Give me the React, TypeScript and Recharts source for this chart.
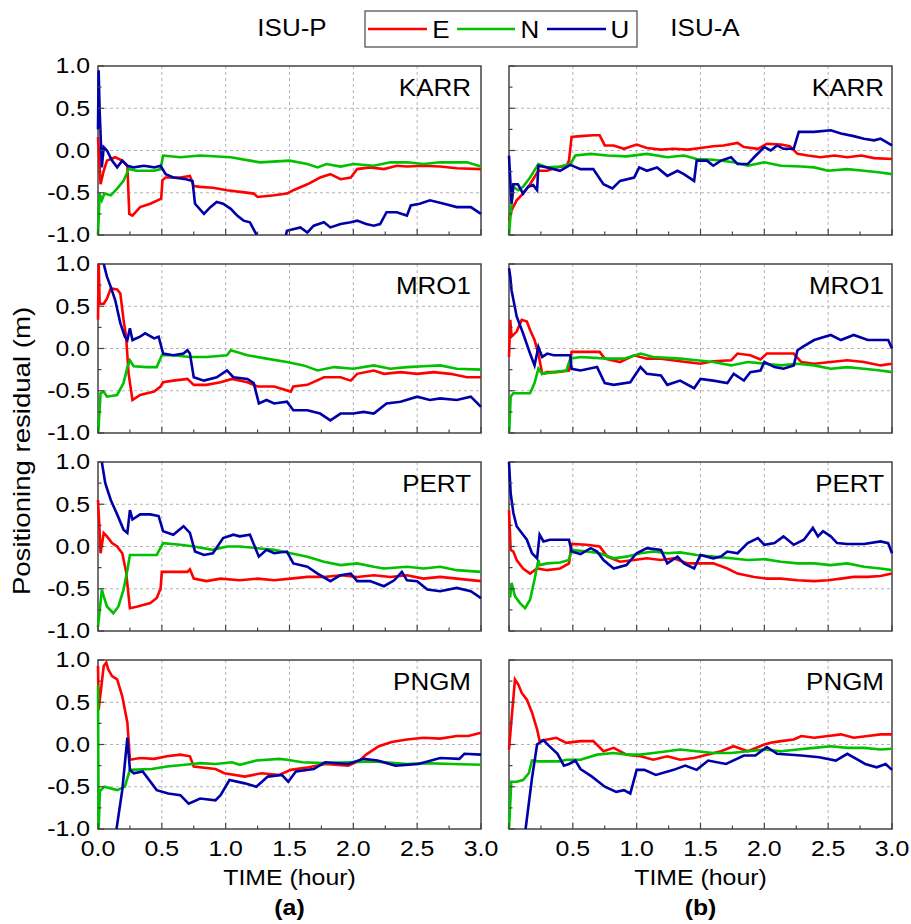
import { LineChart, Line, XAxis, YAxis, CartesianGrid, ReferenceArea } from 'recharts';

type Pt = [number, number];

const stations = ['KARR', 'MRO1', 'PERT', 'PNGM'];
const xTicks = [0, 0.25, 0.5, 0.75, 1, 1.25, 1.5, 1.75, 2, 2.25, 2.5, 2.75, 3];
const yTicks = [-1, -0.75, -0.5, -0.25, 0, 0.25, 0.5, 0.75, 1];
const gridX = [0.5, 1, 1.5, 2, 2.5];
const gridY = [-0.5, 0, 0.5];

// ISU-P (a)
const karrP_E: Pt[] = [[0,0.16],[0.02,-0.4],[0.045,-0.24],[0.07,-0.12],[0.1,-0.1],[0.135,-0.08],[0.19,-0.12],[0.23,-0.18],[0.245,-0.75],[0.27,-0.77],[0.33,-0.67],[0.41,-0.63],[0.495,-0.57],[0.505,-0.35],[0.53,-0.32],[0.645,-0.32],[0.72,-0.3],[0.75,-0.42],[0.8,-0.43],[0.9,-0.44],[1.01,-0.47],[1.115,-0.49],[1.22,-0.51],[1.25,-0.55],[1.38,-0.53],[1.48,-0.51],[1.53,-0.47],[1.64,-0.4],[1.74,-0.32],[1.82,-0.28],[1.9,-0.34],[1.98,-0.32],[2.03,-0.22],[2.13,-0.2],[2.24,-0.22],[2.34,-0.18],[2.42,-0.19],[2.55,-0.18],[2.68,-0.19],[2.81,-0.21],[3,-0.22]];
const karrP_N: Pt[] = [[0,-1],[0.013,-0.51],[0.03,-0.59],[0.05,-0.51],[0.1,-0.53],[0.15,-0.45],[0.2,-0.36],[0.24,-0.22],[0.3,-0.24],[0.44,-0.24],[0.49,-0.22],[0.51,-0.06],[0.645,-0.08],[0.8,-0.06],[1.04,-0.08],[1.19,-0.12],[1.27,-0.14],[1.5,-0.12],[1.64,-0.16],[1.72,-0.2],[1.79,-0.16],[1.9,-0.19],[2,-0.16],[2.16,-0.18],[2.29,-0.14],[2.42,-0.14],[2.55,-0.16],[2.68,-0.14],[2.89,-0.14],[3,-0.19]];
const karrP_U: Pt[] = [[0,0.25],[0.005,0.95],[0.013,0.47],[0.03,-0.2],[0.045,0.04],[0.07,0],[0.11,-0.12],[0.15,-0.2],[0.19,-0.12],[0.23,-0.18],[0.28,-0.2],[0.36,-0.18],[0.44,-0.2],[0.49,-0.18],[0.53,-0.28],[0.59,-0.32],[0.69,-0.34],[0.74,-0.36],[0.76,-0.63],[0.83,-0.75],[0.88,-0.67],[0.93,-0.61],[0.98,-0.63],[1.04,-0.69],[1.09,-0.77],[1.14,-0.83],[1.19,-0.85],[1.25,-1.02],[1.3,-1.15],[1.45,-1.15],[1.48,-0.95],[1.585,-0.91],[1.64,-0.97],[1.69,-0.89],[1.77,-0.85],[1.82,-0.91],[1.9,-0.87],[1.98,-0.85],[2.03,-0.83],[2.1,-0.87],[2.16,-0.89],[2.21,-0.87],[2.26,-0.73],[2.34,-0.73],[2.42,-0.77],[2.45,-0.65],[2.52,-0.63],[2.6,-0.59],[2.71,-0.63],[2.81,-0.67],[2.92,-0.67],[3,-0.75]];

const mroP_E: Pt[] = [[0,0.34],[0.005,1.05],[0.013,0.53],[0.045,0.53],[0.07,0.59],[0.1,0.71],[0.15,0.7],[0.175,0.65],[0.2,0.34],[0.22,0.14],[0.24,-0.3],[0.27,-0.61],[0.33,-0.55],[0.44,-0.51],[0.49,-0.45],[0.51,-0.4],[0.59,-0.38],[0.7,-0.36],[0.75,-0.43],[0.85,-0.43],[0.96,-0.4],[1.05,-0.36],[1.17,-0.4],[1.25,-0.45],[1.38,-0.45],[1.51,-0.51],[1.53,-0.45],[1.64,-0.43],[1.77,-0.34],[1.9,-0.34],[1.98,-0.38],[2.03,-0.3],[2.16,-0.26],[2.24,-0.3],[2.37,-0.28],[2.5,-0.3],[2.63,-0.28],[2.76,-0.3],[2.89,-0.34],[3,-0.34]];
const mroP_N: Pt[] = [[0,-1.05],[0.02,-0.53],[0.045,-0.51],[0.07,-0.57],[0.15,-0.55],[0.2,-0.41],[0.23,-0.22],[0.25,-0.14],[0.28,-0.21],[0.38,-0.22],[0.46,-0.22],[0.5,-0.08],[0.59,-0.08],[0.72,-0.1],[0.85,-0.1],[1.01,-0.08],[1.04,-0.02],[1.17,-0.08],[1.32,-0.12],[1.48,-0.16],[1.61,-0.2],[1.72,-0.26],[1.85,-0.22],[2,-0.24],[2.16,-0.2],[2.29,-0.24],[2.42,-0.22],[2.55,-0.21],[2.68,-0.2],[2.81,-0.24],[3,-0.25]];
const mroP_U: Pt[] = [[0.03,1.1],[0.045,1],[0.07,0.85],[0.1,0.73],[0.135,0.57],[0.175,0.3],[0.21,0.14],[0.23,0.1],[0.25,0.24],[0.27,0.1],[0.33,0.14],[0.37,0.18],[0.44,0.12],[0.475,0.14],[0.51,-0.06],[0.59,-0.08],[0.67,-0.06],[0.7,-0.02],[0.72,-0.06],[0.75,-0.34],[0.83,-0.38],[0.93,-0.34],[1.01,-0.26],[1.06,-0.34],[1.17,-0.36],[1.22,-0.41],[1.26,-0.65],[1.32,-0.61],[1.38,-0.65],[1.48,-0.63],[1.53,-0.73],[1.64,-0.73],[1.74,-0.77],[1.82,-0.85],[1.9,-0.77],[2,-0.77],[2.08,-0.75],[2.16,-0.77],[2.26,-0.65],[2.37,-0.63],[2.5,-0.57],[2.6,-0.61],[2.68,-0.59],[2.81,-0.61],[2.92,-0.57],[3,-0.69]];

const pertP_E: Pt[] = [[0,0.55],[0.01,0.26],[0.02,-0.08],[0.045,0.16],[0.07,0.12],[0.11,0.04],[0.15,0],[0.19,-0.08],[0.22,-0.3],[0.25,-0.73],[0.31,-0.71],[0.41,-0.67],[0.46,-0.61],[0.49,-0.5],[0.5,-0.3],[0.59,-0.3],[0.7,-0.3],[0.72,-0.27],[0.75,-0.38],[0.85,-0.41],[0.96,-0.38],[1.11,-0.4],[1.25,-0.38],[1.38,-0.4],[1.51,-0.38],[1.64,-0.36],[1.77,-0.36],[1.9,-0.34],[2.03,-0.36],[2.16,-0.34],[2.29,-0.36],[2.42,-0.34],[2.55,-0.38],[2.68,-0.36],[2.81,-0.38],[3,-0.41]];
const pertP_N: Pt[] = [[0,-0.95],[0.03,-0.51],[0.045,-0.59],[0.07,-0.71],[0.12,-0.79],[0.16,-0.71],[0.2,-0.51],[0.23,-0.28],[0.25,-0.1],[0.33,-0.1],[0.46,-0.1],[0.51,0.04],[0.645,0.02],[0.75,0],[0.9,-0.04],[1.01,0],[1.11,0],[1.25,-0.02],[1.38,-0.04],[1.51,-0.08],[1.64,-0.12],[1.77,-0.18],[1.9,-0.22],[2.03,-0.2],[2.16,-0.24],[2.24,-0.26],[2.42,-0.24],[2.55,-0.26],[2.68,-0.24],[2.81,-0.28],[3,-0.3]];
const pertP_U: Pt[] = [[0.025,1.1],[0.03,1],[0.057,0.75],[0.1,0.55],[0.15,0.38],[0.2,0.2],[0.23,0.16],[0.25,0.43],[0.27,0.32],[0.33,0.38],[0.41,0.38],[0.475,0.36],[0.51,0.18],[0.59,0.14],[0.67,0.24],[0.72,0.16],[0.76,-0.06],[0.83,-0.1],[0.9,-0.08],[0.98,0.1],[1.06,0.14],[1.11,0.12],[1.19,0.14],[1.26,-0.12],[1.32,-0.04],[1.38,-0.08],[1.48,-0.06],[1.53,-0.2],[1.64,-0.24],[1.72,-0.32],[1.82,-0.41],[1.9,-0.34],[1.98,-0.32],[2.03,-0.41],[2.13,-0.41],[2.24,-0.47],[2.32,-0.4],[2.38,-0.3],[2.42,-0.4],[2.5,-0.41],[2.58,-0.51],[2.68,-0.53],[2.81,-0.49],[2.92,-0.53],[3,-0.61]];

const pngmP_E: Pt[] = [[0,0.93],[0.005,0.41],[0.045,0.93],[0.065,0.97],[0.08,0.89],[0.11,0.81],[0.15,0.77],[0.19,0.57],[0.23,0.26],[0.25,-0.18],[0.33,-0.16],[0.44,-0.17],[0.54,-0.14],[0.645,-0.12],[0.72,-0.14],[0.75,-0.26],[0.92,-0.29],[0.99,-0.34],[1.15,-0.38],[1.28,-0.34],[1.42,-0.36],[1.51,-0.3],[1.65,-0.27],[1.78,-0.23],[1.96,-0.25],[2.05,-0.19],[2.1,-0.12],[2.2,-0.02],[2.3,0.03],[2.42,0.06],[2.55,0.08],[2.68,0.07],[2.81,0.1],[2.9,0.1],[3,0.14]];
const pngmP_N: Pt[] = [[0,0.7],[0.005,-1],[0.015,-0.55],[0.05,-0.5],[0.15,-0.54],[0.21,-0.5],[0.25,-0.3],[0.42,-0.29],[0.54,-0.26],[0.74,-0.23],[0.8,-0.22],[0.92,-0.23],[1.05,-0.21],[1.11,-0.24],[1.24,-0.19],[1.42,-0.17],[1.48,-0.18],[1.6,-0.21],[1.77,-0.22],[1.96,-0.21],[2.16,-0.2],[2.42,-0.23],[2.55,-0.22],[2.78,-0.23],[3,-0.24]];
const pngmP_U: Pt[] = [[0.1,-1.3],[0.145,-1],[0.19,-0.54],[0.23,0.08],[0.25,-0.3],[0.28,-0.34],[0.35,-0.32],[0.46,-0.54],[0.55,-0.58],[0.645,-0.6],[0.71,-0.7],[0.8,-0.64],[0.92,-0.66],[0.96,-0.6],[1.03,-0.42],[1.15,-0.46],[1.24,-0.5],[1.33,-0.38],[1.44,-0.36],[1.49,-0.44],[1.55,-0.32],[1.69,-0.29],[1.78,-0.21],[1.96,-0.23],[2.08,-0.17],[2.19,-0.19],[2.33,-0.25],[2.51,-0.23],[2.68,-0.16],[2.83,-0.17],[2.87,-0.11],[3,-0.12]];

// ISU-A (b)
const karrA_E: Pt[] = [[0,-0.83],[0.02,-0.71],[0.06,-0.59],[0.11,-0.51],[0.165,-0.4],[0.23,-0.24],[0.3,-0.24],[0.37,-0.2],[0.45,-0.18],[0.47,-0.12],[0.49,0.16],[0.56,0.17],[0.66,0.18],[0.71,0.18],[0.75,0.06],[0.82,0.06],[0.9,0.02],[1,0.07],[1.08,0.03],[1.19,0.01],[1.29,0.02],[1.4,0.01],[1.5,0.03],[1.6,0.05],[1.68,0.06],[1.79,0.09],[1.84,0.04],[1.95,0.02],[2.02,0.08],[2.13,0.07],[2.2,0.05],[2.26,-0.04],[2.34,-0.06],[2.44,-0.08],[2.55,-0.06],[2.65,-0.08],[2.76,-0.06],[2.86,-0.09],[3,-0.1]];
const karrA_N: Pt[] = [[0,-1],[0.013,-0.75],[0.034,-0.43],[0.073,-0.47],[0.11,-0.43],[0.165,-0.32],[0.23,-0.16],[0.3,-0.2],[0.4,-0.19],[0.48,-0.16],[0.52,-0.06],[0.64,-0.04],[0.77,-0.06],[0.92,-0.07],[1.08,-0.04],[1.24,-0.08],[1.37,-0.06],[1.47,-0.1],[1.6,-0.11],[1.76,-0.14],[1.87,-0.18],[2,-0.14],[2.13,-0.18],[2.29,-0.19],[2.39,-0.2],[2.5,-0.24],[2.65,-0.22],[2.78,-0.24],[2.91,-0.26],[3,-0.28]];
const karrA_U: Pt[] = [[0,-0.06],[0.02,-0.63],[0.034,-0.4],[0.07,-0.4],[0.11,-0.51],[0.15,-0.43],[0.19,-0.41],[0.22,-0.47],[0.23,-0.18],[0.3,-0.2],[0.4,-0.24],[0.48,-0.17],[0.56,-0.22],[0.66,-0.22],[0.74,-0.4],[0.81,-0.45],[0.87,-0.36],[0.98,-0.32],[1.02,-0.2],[1.08,-0.24],[1.16,-0.2],[1.24,-0.3],[1.32,-0.24],[1.37,-0.28],[1.45,-0.36],[1.47,-0.12],[1.55,-0.12],[1.6,-0.18],[1.66,-0.12],[1.74,-0.08],[1.79,-0.16],[1.87,-0.16],[1.92,-0.08],[2,0.04],[2.05,0],[2.1,0.06],[2.15,0.02],[2.23,0.02],[2.27,0.22],[2.39,0.22],[2.52,0.24],[2.6,0.2],[2.7,0.17],[2.78,0.14],[2.86,0.12],[2.91,0.14],[3,0.06]];

const mroA_E: Pt[] = [[0,-0.1],[0.01,0.34],[0.02,0.14],[0.06,0.2],[0.1,0.34],[0.14,0.32],[0.165,0.22],[0.2,0.1],[0.23,-0.06],[0.26,-0.3],[0.3,-0.28],[0.37,-0.28],[0.47,-0.26],[0.49,-0.04],[0.61,-0.04],[0.71,-0.04],[0.75,-0.12],[0.87,-0.16],[0.98,-0.08],[1.08,-0.12],[1.19,-0.12],[1.34,-0.15],[1.5,-0.18],[1.6,-0.15],[1.74,-0.14],[1.79,-0.06],[1.89,-0.08],[1.97,-0.13],[2.02,-0.06],[2.13,-0.06],[2.23,-0.06],[2.29,-0.16],[2.39,-0.18],[2.52,-0.16],[2.65,-0.14],[2.78,-0.16],[2.91,-0.2],[3,-0.18]];
const mroA_N: Pt[] = [[0,-1.05],[0.013,-0.57],[0.034,-0.53],[0.09,-0.53],[0.165,-0.53],[0.2,-0.41],[0.23,-0.24],[0.26,-0.3],[0.35,-0.28],[0.45,-0.26],[0.48,-0.12],[0.56,-0.1],[0.77,-0.12],[0.9,-0.12],[1.03,-0.06],[1.13,-0.1],[1.34,-0.12],[1.47,-0.14],[1.6,-0.16],[1.74,-0.2],[1.87,-0.16],[2,-0.18],[2.13,-0.2],[2.26,-0.18],[2.39,-0.2],[2.52,-0.24],[2.65,-0.22],[2.78,-0.24],[2.91,-0.26],[3,-0.28]];
const mroA_U: Pt[] = [[0,0.95],[0.01,0.85],[0.02,0.69],[0.06,0.38],[0.11,0.18],[0.165,-0.06],[0.2,-0.2],[0.23,0.02],[0.26,-0.1],[0.3,-0.06],[0.35,-0.08],[0.43,-0.08],[0.48,-0.08],[0.49,-0.24],[0.56,-0.26],[0.69,-0.22],[0.75,-0.41],[0.82,-0.43],[0.95,-0.4],[1.03,-0.22],[1.08,-0.3],[1.19,-0.32],[1.24,-0.43],[1.34,-0.38],[1.45,-0.47],[1.5,-0.36],[1.6,-0.38],[1.71,-0.41],[1.76,-0.3],[1.84,-0.38],[1.89,-0.28],[1.97,-0.26],[2,-0.16],[2.08,-0.22],[2.15,-0.24],[2.23,-0.2],[2.26,-0.02],[2.3,0.02],[2.39,0.1],[2.52,0.16],[2.6,0.1],[2.7,0.16],[2.81,0.1],[2.91,0.1],[2.97,0.1],[3,0]];

const pertA_E: Pt[] = [[0,0.43],[0.013,-0.04],[0.034,-0.06],[0.06,-0.16],[0.11,-0.26],[0.165,-0.32],[0.22,-0.26],[0.3,-0.28],[0.4,-0.26],[0.47,-0.2],[0.49,0.03],[0.61,0.02],[0.71,0],[0.77,-0.12],[0.87,-0.18],[0.98,-0.16],[1.08,-0.14],[1.19,-0.16],[1.29,-0.14],[1.4,-0.2],[1.5,-0.2],[1.6,-0.2],[1.71,-0.26],[1.79,-0.32],[1.92,-0.36],[2.02,-0.38],[2.13,-0.38],[2.26,-0.4],[2.39,-0.41],[2.5,-0.4],[2.6,-0.38],[2.7,-0.36],[2.81,-0.36],[2.91,-0.35],[3,-0.32]];
const pertA_N: Pt[] = [[0,-0.6],[0.01,-0.59],[0.02,-0.43],[0.047,-0.59],[0.086,-0.67],[0.126,-0.73],[0.165,-0.63],[0.2,-0.39],[0.23,-0.16],[0.24,-0.22],[0.3,-0.2],[0.4,-0.19],[0.47,-0.16],[0.49,-0.04],[0.61,-0.06],[0.71,-0.08],[0.82,-0.14],[0.92,-0.12],[1.03,-0.08],[1.13,-0.06],[1.24,-0.08],[1.34,-0.07],[1.47,-0.1],[1.6,-0.12],[1.74,-0.14],[1.87,-0.16],[2,-0.15],[2.13,-0.18],[2.26,-0.2],[2.39,-0.2],[2.52,-0.22],[2.65,-0.2],[2.78,-0.24],[2.91,-0.26],[3,-0.28]];
const pertA_U: Pt[] = [[0,1],[0.013,0.63],[0.034,0.4],[0.06,0.24],[0.1,0.16],[0.14,0.08],[0.18,-0.08],[0.22,-0.14],[0.24,0.14],[0.27,0.06],[0.32,0.08],[0.4,0.08],[0.47,0.08],[0.49,-0.06],[0.56,-0.09],[0.64,-0.02],[0.69,-0.06],[0.74,-0.16],[0.82,-0.26],[0.92,-0.22],[1,-0.08],[1.08,-0.02],[1.19,-0.04],[1.24,-0.2],[1.32,-0.12],[1.37,-0.2],[1.45,-0.26],[1.5,-0.1],[1.6,-0.14],[1.66,-0.12],[1.71,-0.06],[1.79,-0.08],[1.87,0.04],[1.95,0.1],[2,0.02],[2.08,0.04],[2.15,0.12],[2.23,0.02],[2.31,0.08],[2.38,0.22],[2.42,0.12],[2.46,0.18],[2.52,0.12],[2.57,0.04],[2.65,0.03],[2.78,0.03],[2.91,0.06],[2.97,0.04],[3,-0.08]];

const pngmA_E: Pt[] = [[0,-0.06],[0.02,0.3],[0.047,0.77],[0.073,0.71],[0.1,0.61],[0.14,0.53],[0.18,0.38],[0.22,0.18],[0.24,0.04],[0.3,0.06],[0.37,0.08],[0.45,0.02],[0.56,0.04],[0.66,0.04],[0.74,-0.08],[0.82,-0.04],[0.92,-0.12],[1.03,-0.14],[1.13,-0.18],[1.24,-0.14],[1.34,-0.18],[1.45,-0.16],[1.55,-0.12],[1.66,-0.08],[1.76,-0.02],[1.87,-0.08],[2,0],[2.05,0.02],[2.13,0.04],[2.23,0.06],[2.29,0.1],[2.39,0.08],[2.5,0.1],[2.6,0.12],[2.7,0.08],[2.81,0.1],[2.91,0.12],[3,0.12]];
const pngmA_N: Pt[] = [[0,-1],[0.018,-0.44],[0.06,-0.44],[0.11,-0.42],[0.155,-0.34],[0.18,-0.19],[0.23,-0.2],[0.3,-0.2],[0.4,-0.2],[0.45,-0.18],[0.56,-0.18],[0.69,-0.12],[0.82,-0.1],[0.92,-0.12],[1.03,-0.12],[1.13,-0.1],[1.24,-0.08],[1.34,-0.06],[1.47,-0.08],[1.6,-0.1],[1.74,-0.1],[1.87,-0.08],[2,-0.06],[2.13,-0.08],[2.26,-0.06],[2.39,-0.04],[2.52,-0.02],[2.65,-0.04],[2.78,-0.04],[2.91,-0.06],[3,-0.05]];
const pngmA_U: Pt[] = [[0.1,-1.3],[0.13,-1],[0.18,-0.4],[0.22,0],[0.27,0.05],[0.31,-0.01],[0.38,-0.11],[0.43,-0.25],[0.47,-0.23],[0.52,-0.19],[0.56,-0.29],[0.65,-0.38],[0.75,-0.5],[0.84,-0.56],[0.9,-0.54],[0.95,-0.58],[1,-0.3],[1.06,-0.3],[1.15,-0.36],[1.29,-0.3],[1.38,-0.25],[1.47,-0.3],[1.56,-0.19],[1.7,-0.23],[1.84,-0.13],[1.93,-0.13],[2.02,-0.03],[2.1,-0.11],[2.29,-0.13],[2.43,-0.15],[2.56,-0.19],[2.65,-0.11],[2.79,-0.23],[2.88,-0.27],[2.95,-0.23],[3,-0.3]];

const colE = '#ff0000';
const colN = '#00c000';
const colU = '#0000a8';
const FONT = '"Liberation Sans", Arial, sans-serif';
const SX = 1.13;

const isuP = [[karrP_E, karrP_N, karrP_U], [mroP_E, mroP_N, mroP_U], [pertP_E, pertP_N, pertP_U], [pngmP_E, pngmP_N, pngmP_U]];
const isuA = [[karrA_E, karrA_N, karrA_U], [mroA_E, mroA_N, mroA_U], [pertA_E, pertA_N, pertA_U], [pngmA_E, pngmA_N, pngmA_U]];

const toPts = (a: Pt[]) => a.map(([t, v]) => ({ t, v }));
const isMajor = (v: number) => Math.abs(v * 2 - Math.round(v * 2)) < 1e-6;

const PLOT_W = 383;
const PLOT_H = 169;
const ROW_STEP = 198;
const TOP0 = 66;
const PAD = 15;

function YTick(props: any) {
  const { x, y, payload, showLabel } = props;
  const v = payload.value as number;
  const major = isMajor(v);
  return (
    <g>
      <line x1={x} x2={x + (major ? 6 : 3.5)} y1={y} y2={y} stroke="#444" strokeWidth={1.2} />
      {showLabel && major && (
        <text transform={`translate(${x - 8},${y}) scale(${SX},1)`} textAnchor="end" dominantBaseline="central" fontSize={22} fontFamily={FONT} fill="#000">
          {v.toFixed(1)}
        </text>
      )}
    </g>
  );
}

function XTick(props: any) {
  const { x, y, payload, showLabel, skipZero } = props;
  const v = payload.value as number;
  const major = isMajor(v);
  const label = showLabel && major && !(skipZero && v === 0);
  return (
    <g>
      <line x1={x} x2={x} y1={y} y2={y - (major ? 6 : 3.5)} stroke="#444" strokeWidth={1.2} />
      {label && (
        <text transform={`translate(${x},${y + 20}) scale(${SX},1)`} textAnchor="middle" dominantBaseline="central" fontSize={22} fontFamily={FONT} fill="#000">
          {v.toFixed(1)}
        </text>
      )}
    </g>
  );
}

function Panel({ series, row, col }: { series: Pt[][]; row: number; col: number }) {
  const left = col === 0 ? 0 : 486;
  const yw = col === 0 ? 98 : 23;
  const bottom = row === 3;
  const xh = bottom ? 45 : PAD;
  const top = TOP0 + ROW_STEP * row - PAD;
  const width = yw + PLOT_W + 22;
  const height = PAD + PLOT_H + xh;
  const colors = [colE, colN, colU];
  return (
    <div style={{ position: 'absolute', left, top, width, height }}>
      <LineChart width={width} height={height} margin={{ top: PAD, right: 22, left: 0, bottom: 0 }}>
        <CartesianGrid stroke="#b4b4b4" strokeDasharray="3 3" verticalValues={gridX} horizontalValues={gridY} />
        <XAxis
          type="number"
          dataKey="t"
          domain={[0, 3]}
          ticks={xTicks}
          interval={0}
          height={xh}
          tickSize={0}
          tickMargin={0}
          axisLine={false}
          tickLine={false}
          tick={(p: any) => <XTick {...p} showLabel={bottom} skipZero={col === 1} />}
        />
        <YAxis
          type="number"
          domain={[-1, 1]}
          allowDataOverflow
          ticks={yTicks}
          interval={0}
          width={yw}
          tickSize={0}
          tickMargin={0}
          axisLine={false}
          tickLine={false}
          tick={(p: any) => <YTick {...p} showLabel={col === 0} />}
        />
        {series.map((s, i) => (
          <Line
            key={i}
            data={toPts(s)}
            dataKey="v"
            type="linear"
            stroke={colors[i]}
            strokeWidth={2.6}
            dot={false}
            activeDot={false}
            isAnimationActive={false}
          />
        ))}
        <ReferenceArea x1={0} x2={3} y1={-1} y2={1} fill="none" fillOpacity={0} stroke="#444" strokeWidth={1.5} />
      </LineChart>
    </div>
  );
}

function Txt({ x, y, children, size = 22, anchor = 'middle', bold = false, rotate = 0, sx = SX }: any) {
  return (
    <text
      transform={`translate(${x},${y}) rotate(${rotate}) scale(${sx},1)`}
      textAnchor={anchor}
      dominantBaseline="central"
      fontSize={size}
      fontWeight={bold ? 'bold' : 'normal'}
      fontFamily={FONT}
      fill="#000"
    >
      {children}
    </text>
  );
}

export default function App() {
  const leftCx = 98 + PLOT_W / 2;
  const rightCx = 509 + PLOT_W / 2;
  return (
    <div style={{ position: 'absolute', left: 0, top: 0, width: 911, height: 924, background: '#fff' }}>
      {isuP.map((s, r) => (
        <Panel key={'p' + r} series={s} row={r} col={0} />
      ))}
      {isuA.map((s, r) => (
        <Panel key={'a' + r} series={s} row={r} col={1} />
      ))}
      <svg width={911} height={924} style={{ position: 'absolute', left: 0, top: 0, pointerEvents: 'none' }}>
        <Txt x={292} y={28} size={23}>ISU-P</Txt>
        <rect x={365} y={11} width={272} height={36} fill="none" stroke="#555" strokeWidth={1.3} />
        <line x1={368} x2={427} y1={29} y2={29} stroke={colE} strokeWidth={2.5} />
        <Txt x={441} y={30} size={23}>E</Txt>
        <line x1={457} x2={515} y1={29} y2={29} stroke={colN} strokeWidth={2.5} />
        <Txt x={530} y={30} size={23}>N</Txt>
        <line x1={547} x2={606} y1={29} y2={29} stroke={colU} strokeWidth={2.5} />
        <Txt x={620} y={30} size={23}>U</Txt>
        <Txt x={705} y={28} size={23}>ISU-A</Txt>
        {stations.map((s, r) => (
          <g key={s}>
            <Txt x={471} y={TOP0 + ROW_STEP * r + 22} size={23} anchor="end">{s}</Txt>
            <Txt x={884} y={TOP0 + ROW_STEP * r + 22} size={23} anchor="end">{s}</Txt>
          </g>
        ))}
        <Txt x={leftCx} y={878}>TIME (hour)</Txt>
        <Txt x={rightCx} y={878}>TIME (hour)</Txt>
        <Txt x={leftCx} y={908} bold>(a)</Txt>
        <Txt x={rightCx} y={908} bold>(b)</Txt>
        <Txt x={22} y={451} rotate={-90} size={23} sx={1.2}>Positioning residual (m)</Txt>
      </svg>
    </div>
  );
}
